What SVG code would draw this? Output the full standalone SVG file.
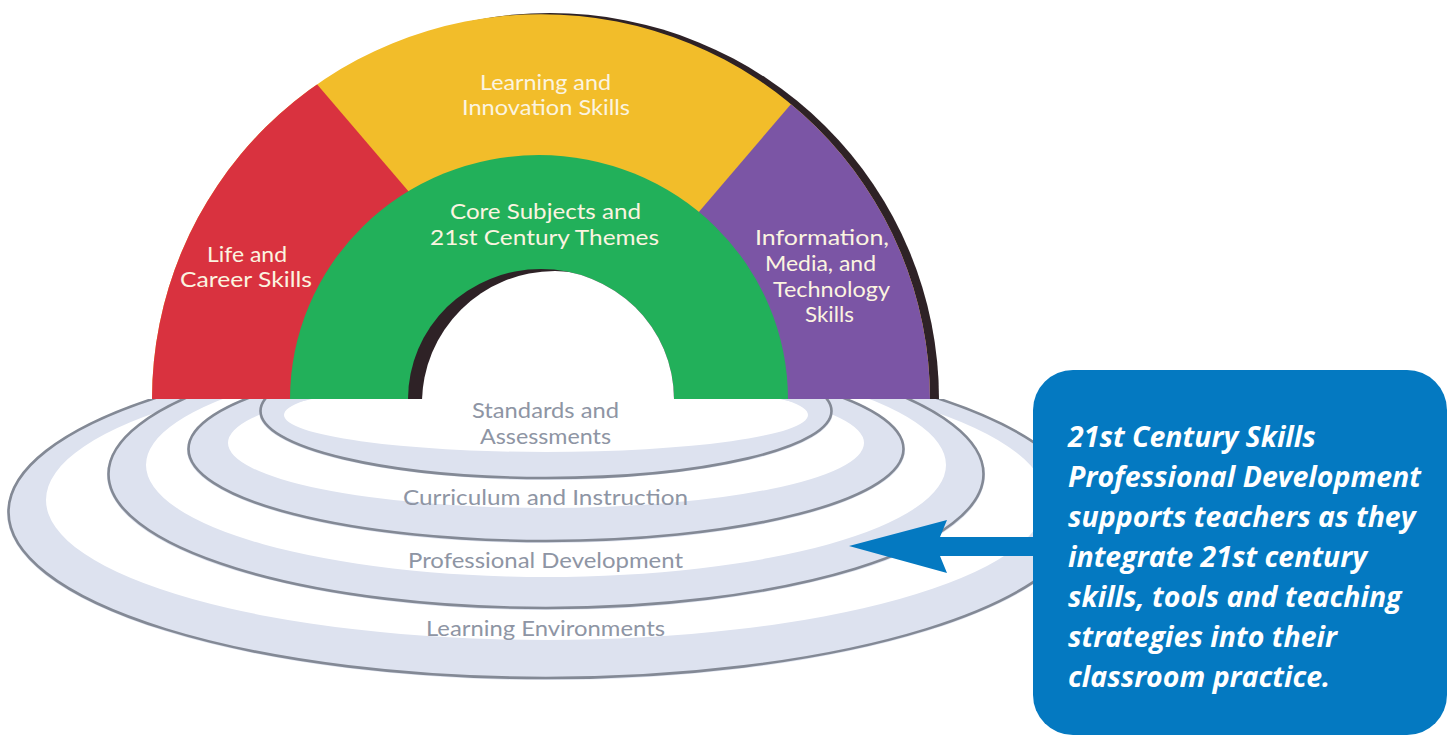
<svg xmlns="http://www.w3.org/2000/svg" width="1452" height="737" viewBox="0 0 1452 737">
  <style>
    .band { fill: #dde2ef; fill-rule: evenodd; }
    .edge { fill: none; stroke: #838995; stroke-width: 2.6; }
    .ringlbl { font-family: Lato, "Open Sans", sans-serif; font-size: 21px; fill: #8e95a4; text-anchor: middle; }
    .archlbl { font-family: Lato, "Open Sans", sans-serif; font-size: 21px; fill: #fbf4e0; text-anchor: middle; }
    .boxtxt { font-family: "Open Sans", "Noto Sans", sans-serif; font-size: 28.5px; font-weight: bold; font-style: italic; fill: #ffffff; }
  </style>
  <defs>
    <clipPath id="floor"><rect x="0" y="399" width="1452" height="338"/></clipPath>
    <clipPath id="outerArch"><path d="M 152 399 A 389 385 0 0 1 930 399 Z"/></clipPath>
    <clipPath id="hole"><path d="M 408 399 A 133 130 0 0 1 674 399 Z"/></clipPath>
  </defs>
  <rect width="1452" height="737" fill="#ffffff"/>

  <g id="rings" clip-path="url(#floor)">
    <g id="ring-learning-environments">
      <path class="band" d="M 7 513 a 539 167 0 1 0 1078 0 a 539 167 0 1 0 -1078 0 Z M 46 500 a 500 140 0 1 0 1000 0 a 500 140 0 1 0 -1000 0 Z"/>
      <ellipse class="edge" cx="546" cy="512" rx="537.5" ry="166"/>
    </g>
    <g id="ring-professional-development">
      <path class="band" d="M 107 475 a 439 135 0 1 0 878 0 a 439 135 0 1 0 -878 0 Z M 146 465 a 400 112 0 1 0 800 0 a 400 112 0 1 0 -800 0 Z"/>
      <ellipse class="edge" cx="546" cy="474" rx="437.5" ry="134"/>
    </g>
    <g id="ring-curriculum">
      <path class="band" d="M 187 450 a 359 93 0 1 0 718 0 a 359 93 0 1 0 -718 0 Z M 228 443 a 318 65 0 1 0 636 0 a 318 65 0 1 0 -636 0 Z"/>
      <ellipse class="edge" cx="546" cy="449" rx="357.5" ry="92"/>
    </g>
    <g id="ring-standards">
      <path class="band" d="M 259 412 a 287 68 0 1 0 574 0 a 287 68 0 1 0 -574 0 Z M 284 415 a 262 37 0 1 0 524 0 a 262 37 0 1 0 -524 0 Z"/>
      <ellipse class="edge" cx="546" cy="411" rx="285.5" ry="67"/>
    </g>
  </g>

  <g id="ring-labels">
    <text class="ringlbl" x="545.5" y="418" textLength="147" lengthAdjust="spacingAndGlyphs">Standards and</text>
    <text class="ringlbl" x="545.5" y="444" textLength="131" lengthAdjust="spacingAndGlyphs">Assessments</text>
    <text class="ringlbl" x="545.5" y="505" textLength="285" lengthAdjust="spacingAndGlyphs">Curriculum and Instruction</text>
    <text class="ringlbl" x="545.5" y="568" textLength="275" lengthAdjust="spacingAndGlyphs">Professional Development</text>
    <text class="ringlbl" x="545.5" y="636" textLength="239" lengthAdjust="spacingAndGlyphs">Learning Environments</text>
  </g>

  <g id="arch">
    <path d="M 161 399 A 389 386 0 0 1 939 399 Z" fill="#2e2226"/>
    <g clip-path="url(#outerArch)">
      <rect x="140" y="0" width="800" height="400" fill="#f2bd2a"/>
      <polygon points="100,0 245,0 586,399 100,399" fill="#d9323f"/>
      <polygon points="880,0 1000,0 1000,399 539,399" fill="#7b55a5"/>
    </g>
    <path d="M 290 399 A 249 244 0 0 1 788 399 Z" fill="#22b05a"/>
    <path d="M 408 399 A 133 130 0 0 1 674 399 Z" fill="#2e2226"/>
    <ellipse cx="555" cy="403" rx="133" ry="132" fill="#ffffff" clip-path="url(#hole)"/>
  </g>

  <g id="node-learning-innovation">
    <text class="archlbl" x="545.5" y="90" textLength="131" lengthAdjust="spacingAndGlyphs">Learning and</text>
    <text class="archlbl" x="546" y="115" textLength="168" lengthAdjust="spacingAndGlyphs">Innovation Skills</text>
  </g>
  <g id="node-core-subjects">
    <text class="archlbl" x="545.5" y="219" textLength="191" lengthAdjust="spacingAndGlyphs">Core Subjects and</text>
    <text class="archlbl" x="544.5" y="245" textLength="229" lengthAdjust="spacingAndGlyphs">21st Century Themes</text>
  </g>
  <g id="node-life-career">
    <text class="archlbl" x="247" y="262" textLength="80" lengthAdjust="spacingAndGlyphs">Life and</text>
    <text class="archlbl" x="246" y="287" textLength="132" lengthAdjust="spacingAndGlyphs">Career Skills</text>
  </g>
  <g id="node-information-media">
    <text class="archlbl" x="822" y="245" textLength="134" lengthAdjust="spacingAndGlyphs">Information,</text>
    <text class="archlbl" x="820.5" y="271" textLength="111" lengthAdjust="spacingAndGlyphs">Media, and</text>
    <text class="archlbl" x="831.5" y="297" textLength="117" lengthAdjust="spacingAndGlyphs">Technology</text>
    <text class="archlbl" x="829.5" y="322" textLength="49" lengthAdjust="spacingAndGlyphs">Skills</text>
  </g>

  <g id="connectors">
    <polygon points="849,546 947,520 940,537 1040,537 1040,556 940,556 947,573" fill="#0479c1"/>
  </g>

  <g id="node-callout">
    <rect x="1033" y="370" width="414" height="365" rx="40" ry="40" fill="#0479c1"/>
    <text class="boxtxt" x="1068" y="447">21st Century Skills</text>
    <text class="boxtxt" x="1068" y="487">Professional Development</text>
    <text class="boxtxt" x="1068" y="527">supports teachers as they</text>
    <text class="boxtxt" x="1068" y="567">integrate 21st century</text>
    <text class="boxtxt" x="1068" y="607">skills, tools and teaching</text>
    <text class="boxtxt" x="1068" y="647">strategies into their</text>
    <text class="boxtxt" x="1068" y="687">classroom practice.</text>
  </g>
</svg>
